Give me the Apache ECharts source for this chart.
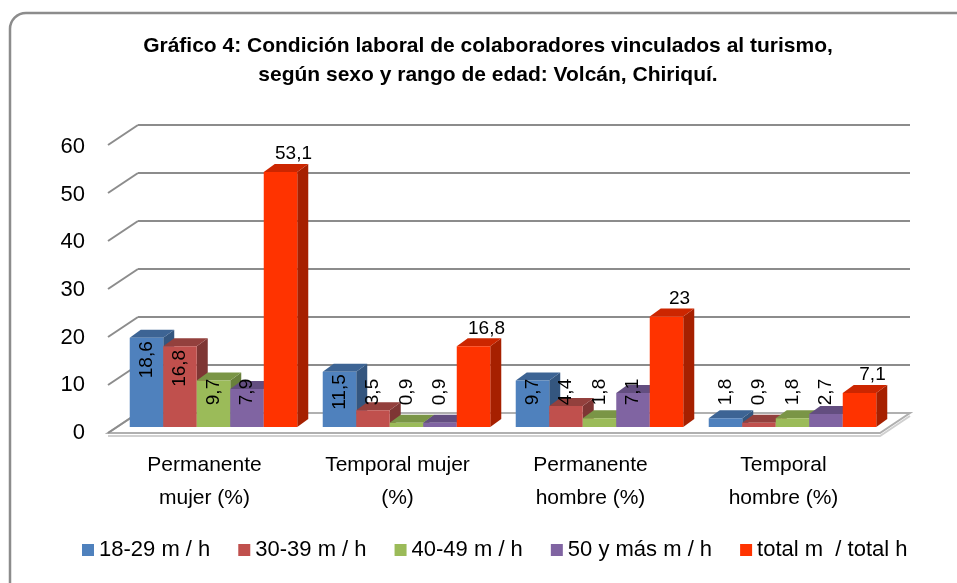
<!DOCTYPE html>
<html>
<head>
<meta charset="utf-8">
<script src="https://cdn.jsdelivr.net/npm/echarts@6/dist/echarts.min.js"></script>
<style>
  html, body { margin: 0; padding: 0; background: #fff; }
  #chart { width: 957px; height: 583px; }
</style>
</head>
<body>
<div id="chart"></div>
<script>
// datos
const categorias = ['Permanente\nmujer (%)', 'Temporal mujer\n(%)', 'Permanente\nhombre (%)', 'Temporal\nhombre (%)'];
const nombres = ['18-29 m / h', '30-39 m / h', '40-49 m / h', '50 y más m / h', 'total m  / total h'];
const edad18a29 = [18.6, 11.5, 9.7, 1.8];
const edad30a39 = [16.8, 3.5, 4.4, 0.9];
const edad40a49 = [9.7, 0.9, 1.8, 1.8];
const edad50mas = [7.9, 0.9, 7.1, 2.7];
const totales = [53.1, 16.8, 23, 7.1];
const marcasY = [0, 10, 20, 30, 40, 50, 60];

const FONT = '"Liberation Sans", Arial, sans-serif';
// desplazamientos del falso 3D (pared de fondo -> frente)
const FRENTE = { dx: -30, dy: 20 };
const BARRA = { dx: -21, dy: 14 };
const FONDO = { dx: 11, dy: -8 };

const colores = [
  { front: '#4F81BD', top: '#3D6494', side: '#34567F' },
  { front: '#C0504D', top: '#93403D', side: '#7E3634' },
  { front: '#9BBB59', top: '#7A9546', side: '#69803C' },
  { front: '#8064A2', top: '#634E80', side: '#55436E' },
  { front: '#FF3300', top: '#CC2600', side: '#A62000' }
];
const datos = [edad18a29, edad30a39, edad40a49, edad50mas, totales];

function fmt(v) { return String(v).replace('.', ','); }

function barra(k) {
  const c = colores[k];
  return function (params, api) {
    const cat = api.value(0), v = api.value(1);
    const p0 = api.coord([cat, 0]), p1 = api.coord([cat, v]);
    const band = api.size([1, 0])[0];
    const w = band * 0.868 / 5;
    const x = p0[0] - 2.5 * w + k * w + BARRA.dx;
    const yb = p0[1] + BARRA.dy, yt = p1[1] + BARRA.dy;
    const dx = FONDO.dx, dy = FONDO.dy;
    const hijos = [
      { type: 'polygon', shape: { points: [[x + w, yt], [x + w + dx, yt + dy], [x + w + dx, yb + dy], [x + w, yb]] }, style: { fill: c.side } },
      { type: 'polygon', shape: { points: [[x, yt], [x + w, yt], [x + w + dx, yt + dy], [x + dx, yt + dy]] }, style: { fill: c.top } },
      { type: 'rect', shape: { x: x, y: yt, width: w, height: yb - yt }, style: { fill: c.front } }
    ];
    if (k < 4) {
      hijos.push({
        type: 'text', x: x + w / 2, y: Math.min(yt + 22, yb - 35), rotation: Math.PI / 2, z2: 100,
        style: { text: fmt(v), align: 'center', verticalAlign: 'middle', font: '19px ' + FONT, fill: '#000' }
      });
    } else {
      hijos.push({
        type: 'text', x: x + w / 2 + 13, y: yt - 18, z2: 100,
        style: { text: fmt(v), align: 'center', verticalAlign: 'middle', font: '19px ' + FONT, fill: '#000' }
      });
    }
    return { type: 'group', children: hijos };
  };
}

// piso y lineas diagonales del eje
function decoracion(params, api) {
  const v = api.value(0);
  const cs = params.coordSys;
  const y = api.coord([0, v])[1];
  const xa = cs.x, xb = cs.x + cs.width;
  const hijos = [
    { type: 'line', shape: { x1: xa, y1: y, x2: xa + FRENTE.dx, y2: y + FRENTE.dy }, style: { stroke: '#8c8c8c', lineWidth: 2 } }
  ];
  if (v === 0) {
    hijos.unshift({
      type: 'polygon',
      shape: { points: [[xa, y], [xb, y], [xb + FRENTE.dx, y + FRENTE.dy], [xa + FRENTE.dx, y + FRENTE.dy]] },
      style: { fill: '#fff', stroke: '#b0b0b0', lineWidth: 2 }
    });
    hijos.unshift({
      type: 'polyline',
      shape: { points: [[xa + FRENTE.dx, y + FRENTE.dy + 3], [xb + FRENTE.dx, y + FRENTE.dy + 3], [xb, y + 3]] },
      style: { stroke: '#d0d0d0', lineWidth: 2, fill: 'none' }
    });
  }
  return { type: 'group', children: hijos };
}

const series = [{
  type: 'custom', name: 'deco', xAxisIndex: 0, yAxisIndex: 0, silent: true,
  data: marcasY.map(v => [v]), encode: { y: 0 }, renderItem: decoracion, z: 1
}];
datos.forEach(function (arr, k) {
  series.push({
    type: 'custom', name: nombres[k], xAxisIndex: 0, yAxisIndex: 0,
    itemStyle: { color: colores[k].front },
    data: arr.map((v, i) => [i, v]), encode: { x: 0, y: 1 },
    renderItem: barra(k), z: 2
  });
});

const chart = echarts.init(document.getElementById('chart'), null, { renderer: 'canvas' });
chart.setOption({
  animation: false,
  backgroundColor: '#fff',
  title: {
    text: 'Gráfico 4: Condición laboral de colaboradores vinculados al turismo,\nsegún sexo y rango de edad: Volcán, Chiriquí.',
    left: 488, top: 32, textAlign: 'center', padding: 0,
    textStyle: { fontFamily: FONT, fontSize: 21, fontWeight: 'bold', color: '#000', lineHeight: 29 }
  },
  graphic: [{
    type: 'rect', shape: { x: 10, y: 13, width: 962, height: 592, r: 16 },
    style: { fill: 'none', stroke: '#8c8c8c', lineWidth: 2.5 }, z: 0
  }],
  legend: {
    data: nombres, left: 82, top: 539, padding: 0, icon: 'rect', itemWidth: 12, itemHeight: 12, itemGap: 28,
    textStyle: { fontFamily: FONT, fontSize: 22, color: '#000' }
  },
  grid: [
    { left: 138, right: 47, top: 125, bottom: 170 },
    { left: 108, right: 77, top: 147, bottom: 150 }
  ],
  xAxis: [
    { type: 'category', gridIndex: 0, data: categorias, axisLine: { show: false }, axisTick: { show: false }, axisLabel: { show: false } },
    { type: 'category', gridIndex: 1, data: categorias, axisLine: { show: false }, axisTick: { show: false },
      axisLabel: { fontFamily: FONT, fontSize: 21, color: '#000', lineHeight: 33, margin: 16 } }
  ],
  yAxis: [
    { type: 'value', gridIndex: 0, min: 0, max: 60, interval: 10, axisLine: { show: false }, axisTick: { show: false }, axisLabel: { show: false },
      splitLine: { lineStyle: { color: '#8c8c8c', width: 2 } } },
    { type: 'value', gridIndex: 1, min: 0, max: 60, interval: 10, axisLine: { show: false }, axisTick: { show: false }, splitLine: { show: false },
      axisLabel: { fontFamily: FONT, fontSize: 22, color: '#000', margin: 23 } }
  ],
  series: series
});
</script>
</body>
</html>
